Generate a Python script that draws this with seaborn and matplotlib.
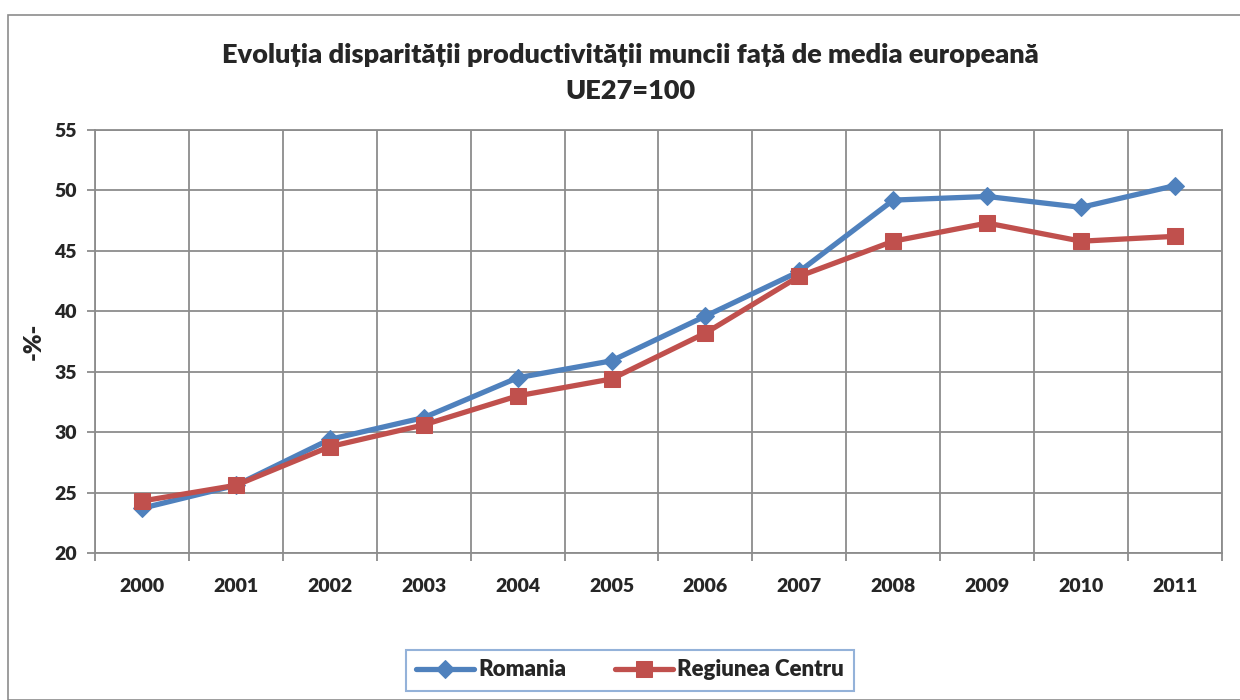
import matplotlib
matplotlib.use("Agg")
import matplotlib.pyplot as plt
from matplotlib.patches import Rectangle
import seaborn as sns
import pandas as pd
import numpy as np

years = [2000, 2001, 2002, 2003, 2004, 2005, 2006, 2007, 2008, 2009, 2010, 2011]
romania = [23.7, 25.6, 29.4, 31.2, 34.5, 35.9, 39.6, 43.3, 49.2, 49.5, 48.6, 50.4]
centru = [24.3, 25.6, 28.8, 30.6, 33.0, 34.4, 38.2, 42.9, 45.8, 47.3, 45.8, 46.2]
series_names = ["Romania", "Regiunea Centru"]
colors = ["#4F81BD", "#C0504D"]
markers = ["D", "s"]

df = pd.concat([
    pd.DataFrame({"an": years, "valoare": romania, "serie": series_names[0]}),
    pd.DataFrame({"an": years, "valoare": centru, "serie": series_names[1]}),
])

W = "heavy"
sns.set_style("white")
plt.rcParams["font.family"] = ["Lato", "DejaVu Sans"]
plt.rcParams["font.weight"] = W

fig = plt.figure(figsize=(12.4, 7), dpi=100)
ax = fig.add_axes([95 / 1240, 1 - 553 / 700, (1222 - 95) / 1240, (553 - 130) / 700])

# outer chart frame
fig.patches.append(Rectangle((8 / 1240, 0), 1.0, 1 - 15 / 700, transform=fig.transFigure,
                             fill=False, edgecolor="#8c8c8c", linewidth=1.2))

for name, col, mk in zip(series_names, colors, markers):
    sns.lineplot(data=df[df["serie"] == name], x="an", y="valoare", ax=ax,
                 color=col, linewidth=3.8, marker=mk,
                 markersize=9.5 if mk == "D" else 11,
                 markeredgecolor=col, label=name, legend=False)

ax.set_xlim(years[0] - 0.5, years[-1] + 0.5)
ax.set_ylim(20, 55)
ax.set_yticks(np.arange(20, 56, 5))
ax.set_xticks(years)
ax.set_xticklabels([str(y) for y in years])
ax.set_xticks(np.arange(years[0] - 0.5, years[-1] + 1, 1), minor=True)

ax.grid(False)
ax.grid(True, which="major", axis="y", color="#8c8c8c", linewidth=1.3)
ax.grid(True, which="minor", axis="x", color="#8c8c8c", linewidth=1.3)
ax.set_axisbelow(True)
for s in ax.spines.values():
    s.set_color("#8c8c8c")
    s.set_linewidth(1.3)

ax.tick_params(axis="x", which="major", length=0, pad=18, labelsize=14)
ax.tick_params(axis="x", which="minor", length=6, color="#8c8c8c", width=1.3, direction="out", bottom=True)
ax.tick_params(axis="y", which="major", length=6, color="#8c8c8c", width=1.3, direction="out", left=True, pad=7, labelsize=14)
for lab in ax.get_xticklabels() + ax.get_yticklabels():
    lab.set_fontweight(W)

ax.set_xlabel("")
ax.set_ylabel("-%-", fontsize=17, fontweight=W)
ax.yaxis.set_label_coords(-0.045, 0.5)

fig.text(630 / 1240, 1 - 55 / 700, "Evoluția disparității productivității muncii față de media europeană",
         ha="center", va="center", fontsize=19.5, fontweight=W)
fig.text(630 / 1240, 1 - 91 / 700, "UE27=100", ha="center", va="center", fontsize=19.5, fontweight=W)

handles, labels = ax.get_legend_handles_labels()
leg = fig.legend(handles, labels, loc="center", bbox_to_anchor=(630 / 1240, 1 - 670 / 700), ncol=2,
                 frameon=True, fancybox=False, edgecolor="#7a9fd0", fontsize=16,
                 handlelength=2.6, handletextpad=0.2, columnspacing=2.2, borderpad=0.45)
leg.get_frame().set_linewidth(1.5)
for t in leg.get_texts():
    t.set_fontweight(W)

fig.savefig("out.png", dpi=100)
